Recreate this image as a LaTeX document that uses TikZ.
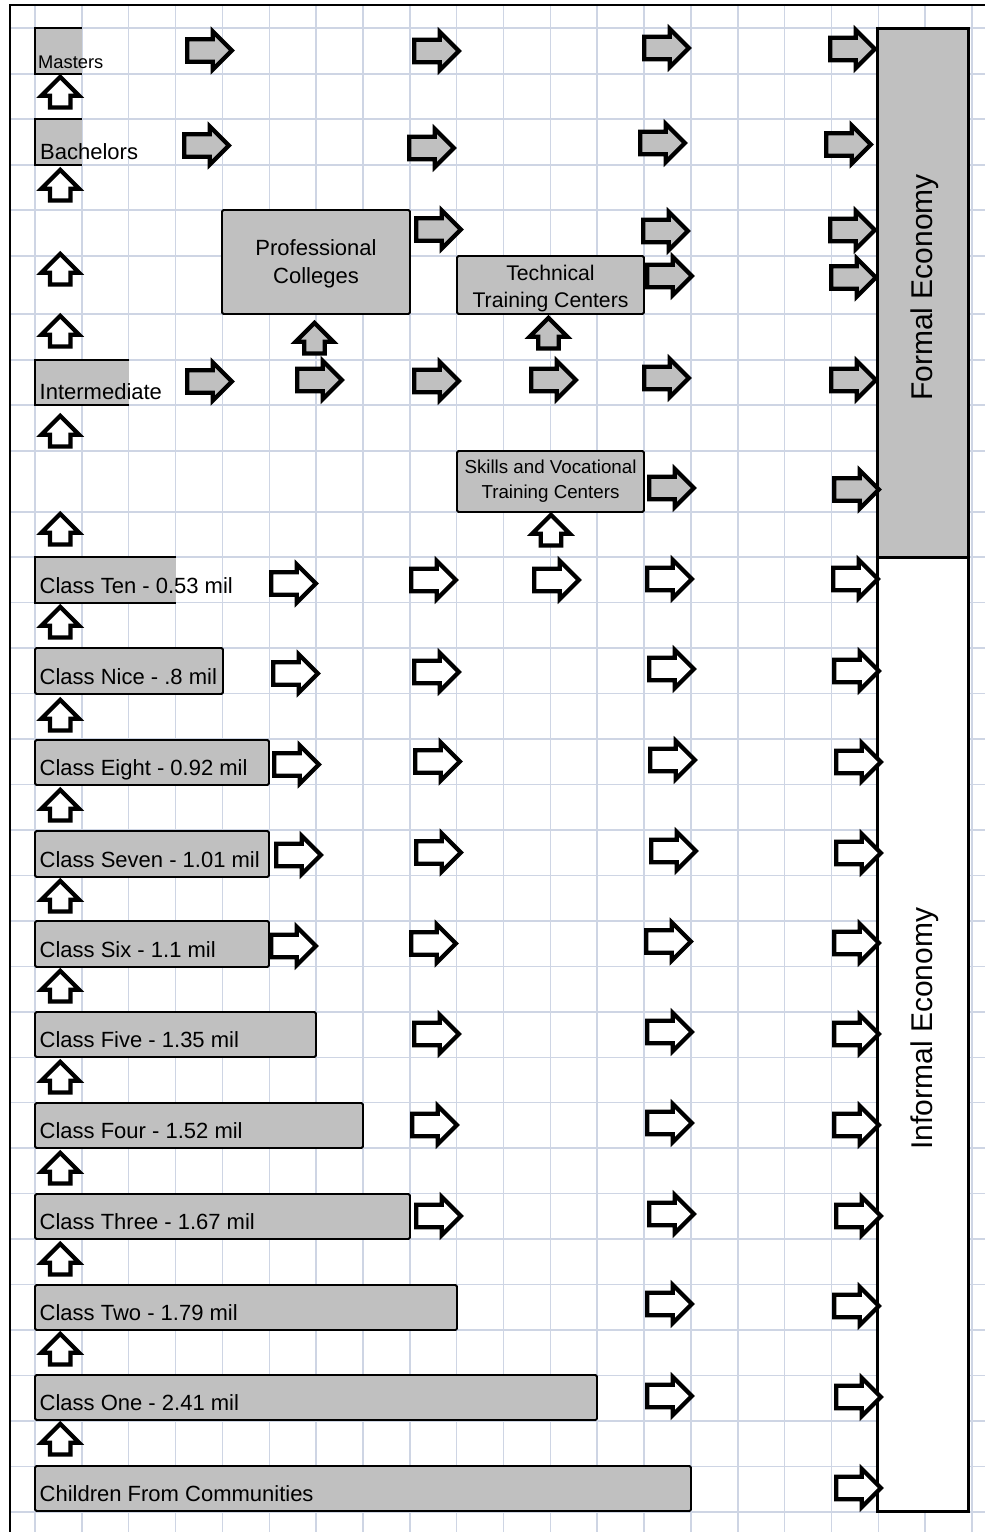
\documentclass[tikz,border=0pt]{standalone}
\usepackage{fontspec}
\setmainfont{Liberation Sans}
\usetikzlibrary{shapes.arrows}
\definecolor{gridc}{RGB}{206,213,228}
\definecolor{boxgray}{RGB}{192,192,192}
\tikzset{
  gridline/.style={draw=gridc, line width=1.5pt},
  rarr/.style={single arrow, draw=black, line width=4.2pt, line join=miter, inner sep=7.9pt,
    minimum width=38.3pt, minimum height=44.6pt, single arrow tip angle=90, anchor=tail},
  uarr/.style={single arrow, shape border rotate=90, draw=black, line width=4.2pt, line join=miter,
    inner sep=6.55pt, minimum width=37.5pt, minimum height=30.6pt, single arrow tip angle=90, anchor=tail},
  box/.style={draw=black, fill=boxgray, line width=1.8pt, rounded corners=1.5pt, anchor=north west,
    inner sep=0pt, outer sep=0pt},
  obox/.style={fill=boxgray, anchor=north west, inner sep=0pt, outer sep=0pt},
  oedge/.style={draw=black, line width=1.8pt},
  ebox/.style={draw=black, line width=3pt, anchor=north west, inner sep=0pt, outer sep=0pt},
  lbl/.style={anchor=base west, inner sep=0pt, font=\fontsize{22}{28}\selectfont},
  mlbl/.style={align=center, inner sep=0pt},
  elbl/.style={rotate=90, anchor=base, inner sep=0pt, font=\fontsize{30}{36}\selectfont},
}
\begin{document}
\begin{tikzpicture}[x=1pt,y=-1pt]
\useasboundingbox (0,0) rectangle (985,1532);
\fill[white] (0,0) rectangle (985,1532);
% grid
\foreach \i in {0,...,20} \draw[gridline] ({35+46.85*\i},5) -- ({35+46.85*\i},1532);
\foreach \yy in {28,74,119,165,210,256,314,360,405,451,512} \draw[gridline] (10,\yy) -- (985,\yy);
\foreach \k in {0,...,21} \draw[gridline] (10,{557+45.476*\k}) -- (985,{557+45.476*\k});
\draw[line width=2pt] (10,1532) -- (10,5) -- (985,5);

% economy boxes
\node[ebox, fill=boxgray, minimum width=91pt, minimum height=529pt] (formal) at (877,28) {};
\node[ebox, fill=white, minimum width=91pt, minimum height=954pt] (informal) at (877,557) {};

% boxes with overflowing text
\node[obox, minimum width=47pt, minimum height=46pt] (masters) at (35,28) {};
\node[obox, minimum width=47pt, minimum height=46pt] (bach) at (35,119) {};
\node[obox, minimum width=94pt, minimum height=45pt] (inter) at (35,360) {};
\node[obox, minimum width=141pt, minimum height=46pt] (c10) at (35,557) {};
\foreach \b in {masters,bach,inter,c10}
  \draw[oedge] (\b.north east) -- (\b.north west) -- (\b.south west) -- (\b.south east);

% full boxes
\node[box, minimum width=188pt, minimum height=104pt] (prof) at (222,210) {};
\node[box, minimum width=187pt, minimum height=58pt] (tech) at (457,256) {};
\node[box, minimum width=187pt, minimum height=61pt] (skills) at (457,451) {};
\node[box, minimum width=188pt, minimum height=46pt] (c9) at (35,648) {};
\node[box, minimum width=234pt, minimum height=45pt] (c8) at (35,740) {};
\node[box, minimum width=234pt, minimum height=46pt] (c7) at (35,831) {};
\node[box, minimum width=234pt, minimum height=46pt] (c6) at (35,921) {};
\node[box, minimum width=281pt, minimum height=45pt] (c5) at (35,1012) {};
\node[box, minimum width=328pt, minimum height=45pt] (c4) at (35,1103) {};
\node[box, minimum width=375pt, minimum height=45pt] (c3) at (35,1194) {};
\node[box, minimum width=422pt, minimum height=45pt] (c2) at (35,1285) {};
\node[box, minimum width=562pt, minimum height=45pt] (c1) at (35,1375) {};
\node[box, minimum width=656pt, minimum height=45pt] (ch) at (35,1466) {};

% labels
\node[lbl, font=\fontsize{18.3}{22}\selectfont] (tmasters) at (38,68) {Masters};
\node[lbl] (tbach) at (40,159) {Bachelors};
\node[lbl] (tinter) at (39.5,399) {Intermediate};
\node[mlbl, font=\fontsize{22}{28}\selectfont] (tprof) at (316,264.3) {Professional\\Colleges};
\node[mlbl, font=\fontsize{21.2}{27}\selectfont] (ttech) at (550.5,288.8) {Technical\\Training Centers};
\node[mlbl, font=\fontsize{18.75}{25}\selectfont] (tskills) at (550.5,481.6) {Skills and Vocational\\Training Centers};
\node[lbl] (tc10) at (39.5,593) {Class Ten - 0.53 mil};
\node[lbl] (tc9) at (39.5,684) {Class Nice - .8 mil};
\node[lbl] (tc8) at (39.5,775) {Class Eight - 0.92 mil};
\node[lbl] (tc7) at (39.5,867) {Class Seven - 1.01 mil};
\node[lbl] (tc6) at (39.5,957) {Class Six - 1.1 mil};
\node[lbl] (tc5) at (39.5,1047) {Class Five - 1.35 mil};
\node[lbl] (tc4) at (39.5,1138) {Class Four - 1.52 mil};
\node[lbl] (tc3) at (39.5,1229) {Class Three - 1.67 mil};
\node[lbl] (tc2) at (39.5,1320) {Class Two - 1.79 mil};
\node[lbl] (tc1) at (39.5,1410) {Class One - 2.41 mil};
\node[lbl] (tch) at (39.5,1501) {Children From Communities};
\node[elbl] (tformal) at (932,287.5) {Formal Economy};
\node[elbl] (tinformal) at (932,1028.5) {Informal Economy};

% right arrows, grey
\foreach \x/\y [count=\n] in {183/50.5,410/51,640/48,826/49,
  180/145.5,405/148,636/143,822/144.5,
  412/229.5,639/231,826/230,
  643/276,827/277.5,
  183/381.5,293/380,410/381,527/380,640/378,827/380,
  645/488,830/489.5}
  \node[rarr, fill=boxgray] (rg\n) at (\x+2.1,\y) {};
% right arrows, white
\foreach \x/\y [count=\n] in {267/583.5,407/580,530/580,643/579,829/579,
  269/673.5,410/672,645/669,830/671,
  270/764.5,411/761.5,646/760,832/762,
  272/855,412/852.5,647/851,832/853,
  267/946,407/943.5,642/941.5,830/943,
  410/1034,643/1032,830/1034,
  408/1125,643/1123,830/1125,
  412/1216,645/1214,832/1216,
  643/1304,830/1306,
  643/1396,832/1397,
  832/1488}
  \node[rarr, fill=white] (rw\n) at (\x+2.1,\y) {};
% up arrows, left column
\foreach \t [count=\n] in {76,169,253,315,415,513,606,699,789,880,970,1061,1152,1243,1333,1423}
  \node[uarr, fill=white] (ul\n) at (60.2,\t+33.6) {};
% up arrows, middle
\node[uarr, fill=boxgray] (uprof) at (314.5,355.6) {};
\node[uarr, fill=boxgray] (utech) at (548.5,350.6) {};
\node[uarr, fill=white] (uskills) at (551,547.6) {};
\end{tikzpicture}
\end{document}
